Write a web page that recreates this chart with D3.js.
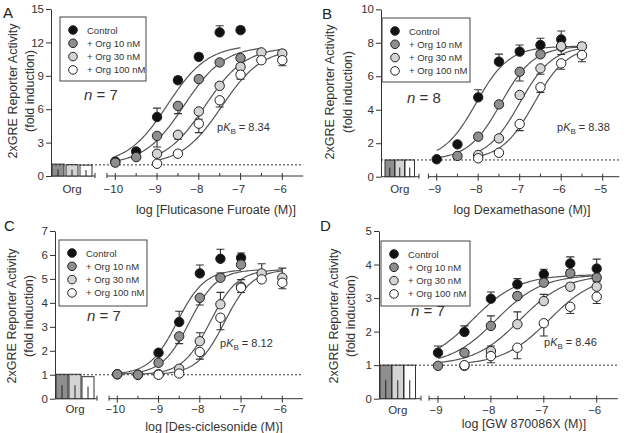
<!DOCTYPE html>
<html>
<head>
<meta charset="utf-8">
<script src="https://cdn.jsdelivr.net/npm/d3@7"></script>
<style>
  body { margin: 0; background: #fff; }
  svg { display: block; font-family: "Liberation Sans", Arial, sans-serif; }
</style>
</head>
<body>
<svg id="chart" width="629" height="433"></svg>
<script>
// legend / series labels
var seriesNames = ["Control", "+ Org 10 nM", "+ Org 30 nM", "+ Org 100 nM"];

// points are [log dose, mean, error] ; negative error = bar drawn below
// A - fluticasone furoate
var ffControl = [[-10,1.3,0],[-9.5,2.2,0.2],[-9,5.3,0.8],[-8.5,8.6,0.3],[-8,10.7,0.3],[-7.5,12.9,0.6],[-7,13.1,0.3]];
var ffOrg10 = [[-10,1.2,0],[-9.5,1.7,0],[-9,3.6,-1.0],[-8.5,6.3,-0.7],[-8,8.7,0.2],[-7.5,10.2,0.2],[-7,10.6,0.2]];
var ffOrg30 = [[-9,2.0,0],[-8.5,3.7,-0.4],[-8,5.8,-0.7],[-7.5,8.1,0.3],[-7,9.8,0.3],[-6.5,11.1,0.2],[-6,11.0,0.3]];
var ffOrg100 = [[-9,1.1,0],[-8.5,2.0,0.2],[-8,4.7,-0.8],[-7.5,6.8,-0.6],[-7,9.1,-0.4],[-6.5,10.4,0.2],[-6,10.4,-0.5]];
var ffOrg = [1.07, 1.02, 0.98];
// fits: [bottom, top, logEC50, hill, from, to]
var ffFits = [[1,11.8,-8.75,0.9,-10,-7],[1,11.7,-8.35,0.9,-10,-6.5],[1,11.6,-7.85,0.9,-9,-6],[1,11.5,-7.45,0.9,-9,-6]];
var ffXTicks = [-10,-9,-8,-7,-6];
var ffYTicks = [0,3,6,9,12,15];

// B - dexamethasone
var dxControl = [[-9,1.04,0],[-8.5,1.93,0.1],[-8,4.74,0.45],[-7.5,6.87,0.45],[-7,7.47,0.4],[-6.5,7.87,0.4],[-6,8.2,0.5]];
var dxOrg10 = [[-8.5,1.24,0],[-8,2.39,0.15],[-7.5,4.32,0.1],[-7,6.27,-0.55],[-6.5,7.31,0.2],[-6,7.77,0.3]];
var dxOrg30 = [[-8,1.3,-0.2],[-7.5,2.29,0.15],[-7,4.88,0.15],[-6.5,6.47,-0.35],[-6,7.8,-0.5],[-5.5,7.78,0.2]];
var dxOrg100 = [[-8,1.1,-0.1],[-7.5,1.43,0.1],[-7,3.15,-0.4],[-6.5,5.34,-0.3],[-6,6.77,-0.35],[-5.5,7.27,-0.4]];
var dxOrg = [1.0, 1.0, 1.0];
var dxFits = [[1,7.8,-8.05,1.1,-9,-5.5],[1,7.8,-7.45,1.1,-9,-5.5],[1,7.8,-7.0,1.1,-8,-5.5],[1,7.8,-6.65,1.1,-8,-5.5]];
var dxXTicks = [-9,-8,-7,-6,-5];
var dxYTicks = [0,2,4,6,8,10];

// C - des-ciclesonide
var dcControl = [[-10,1.02,0],[-9.5,1.0,0],[-9,1.92,0.1],[-8.5,3.2,0.45],[-8,5.23,0.35],[-7.5,5.84,0.4],[-7,5.88,0.2]];
var dcOrg10 = [[-10,1.02,0],[-9.5,1.0,0],[-9,1.5,0.1],[-8.5,2.6,-0.3],[-8,4.21,-0.3],[-7.5,5.05,0.2],[-7,5.6,0.2]];
var dcOrg30 = [[-9,1.02,0],[-8.5,1.25,0.1],[-8,2.4,0.35],[-7.5,3.94,0.5],[-7,4.67,0.3],[-6.5,5.23,0.4],[-6,5.05,0.4]];
var dcOrg100 = [[-9,1.0,0],[-8.5,1.05,0],[-8,1.95,-0.3],[-7.5,3.38,-0.5],[-7,4.63,-0.2],[-6.5,4.98,0.1],[-6,4.84,-0.25]];
var dcOrg = [1.02, 1.02, 0.92];
var dcFits = [[1,5.4,-8.55,1.3,-10,-7],[1,5.4,-8.25,1.3,-10,-6.5],[1,5.4,-7.75,1.3,-9.5,-6],[1,5.4,-7.4,1.3,-9,-6]];
var dcXTicks = [-10,-9,-8,-7,-6];
var dcYTicks = [0,1,2,3,4,5,6,7];

// D - GW 870086X
var gwControl = [[-9,1.37,0.2],[-8.5,1.99,0.18],[-8,2.98,0.2],[-7.5,3.41,0.17],[-7,3.71,0.15],[-6.5,4.03,0.2],[-6,3.88,0.28]];
var gwOrg10 = [[-9,0.98,0],[-8.5,1.37,0.05],[-8,2.17,0.3],[-7.5,3.06,0.1],[-7,3.46,0.1],[-6.5,3.74,0.1],[-6,3.61,0.1]];
var gwOrg30 = [[-8.5,0.98,0],[-8,1.42,0.15],[-7.5,2.22,0.37],[-7,2.91,0.2],[-6.5,3.34,0.1],[-6,3.34,0.15]];
var gwOrg100 = [[-8.5,1.0,0],[-8,1.27,-0.2],[-7.5,1.52,-0.33],[-7,2.25,-0.38],[-6.5,2.74,-0.2],[-6,3.04,-0.2]];
var gwOrg = [1.0, 1.0, 1.0];
var gwFits = [[1,3.7,-8.35,1,-9,-6],[1,3.7,-7.9,1,-9,-6],[1,3.7,-7.45,1,-9,-6],[1,3.7,-6.9,1,-8.5,-6]];
var gwXTicks = [-9,-8,-7,-6];
var gwYTicks = [0,1,2,3,4,5];

var fills = ["#111", "#8e8e8e", "#d4d4d4", "#fff"];
var ink = "#333";

var panels = [
    { letter: "A", series: [ffControl, ffOrg10, ffOrg30, ffOrg100], fits: ffFits, org: ffOrg,
      xTicks: ffXTicks, yTicks: ffYTicks, n: "7", pkb: "8.34", title: "log [Fluticasone Furoate (M)]",
      ax: 51, y0: 176, y1: 9, orgEnd: 95, barX: [52, 66, 80], barW: 12,
      px0: 115.3, px1: 282.3, xStart: -10.2, xEnd: -5.5,
      legend: [60, 17, 86, 64], nPos: [84, 100], pkbPos: [217, 131], letterPos: [3, 18],
      yTitle: [13, 30, 91], tickY: 193, titleY: 214, titleX: 216 },
    { letter: "B", series: [dxControl, dxOrg10, dxOrg30, dxOrg100], fits: dxFits, org: dxOrg,
      xTicks: dxXTicks, yTicks: dxYTicks, n: "8", pkb: "8.38", title: "log Dexamethasone (M)]",
      ax: 381, y0: 176.7, y1: 9.3, orgEnd: 419, barX: [385, 395, 405], barW: 9.5,
      px0: 436.7, px1: 602.7, xStart: -9.2, xEnd: -4.6,
      legend: [382, 18, 88, 64], nPos: [407, 103], pkbPos: [557, 131], letterPos: [322, 19],
      yTitle: [330, 348, 92], tickY: 193, titleY: 214, titleX: 522 },
    { letter: "C", series: [dcControl, dcOrg10, dcOrg30, dcOrg100], fits: dcFits, org: dcOrg,
      xTicks: dcXTicks, yTicks: dcYTicks, n: "7", pkb: "8.12", title: "log [Des-ciclesonide (M)]",
      ax: 55, y0: 398.7, y1: 231, orgEnd: 97, barX: [56, 69, 82], barW: 12,
      px0: 117.3, px1: 282.3, xStart: -10.2, xEnd: -5.5,
      legend: [59, 240, 88, 66], nPos: [87, 321], pkbPos: [220, 347], letterPos: [4, 231],
      yTitle: [12, 29, 316], tickY: 413, titleY: 431, titleX: 214 },
    { letter: "D", series: [gwControl, gwOrg10, gwOrg30, gwOrg100], fits: gwFits, org: gwOrg,
      xTicks: gwXTicks, yTicks: gwYTicks, n: "7", pkb: "8.46", title: "log [GW 870086X (M)]",
      ax: 379, y0: 398.7, y1: 231, orgEnd: 421, barX: [380, 392, 404], barW: 11.5,
      px0: 438, px1: 596.7, xStart: -9.17, xEnd: -5.6,
      legend: [381, 241, 89, 65], nPos: [411, 316], pkbPos: [544, 346], letterPos: [320, 231],
      yTitle: [334, 351, 316], tickY: 414, titleY: 428, titleX: 524 }
];

var svg = d3.select("#chart");

function hill(f, v) {
    return f[0] + (f[1] - f[0]) / (1 + Math.pow(10, f[3] * (f[2] - v)));
}

panels.forEach(function(p) {
    var g = svg.append("g");
    var yMax = p.yTicks[p.yTicks.length - 1];
    var y = d3.scaleLinear().domain([0, yMax]).range([p.y0, p.y1]);
    var x = d3.scaleLinear().domain([p.xTicks[0], p.xTicks[p.xTicks.length - 1]]).range([p.px0, p.px1]);

    // y axis
    var yAxis = g.append("g")
        .attr("transform", "translate(" + p.ax + ",0)")
        .call(d3.axisLeft(y).tickValues(p.yTicks).tickFormat(d3.format("d"))
            .tickSize(5).tickSizeOuter(0).tickPadding(2));
    yAxis.selectAll("path, line").attr("stroke", ink);
    yAxis.selectAll("text").attr("font-size", 11.5).attr("fill", ink);

    // org bars + short axis
    g.append("line")
        .attr("x1", p.ax).attr("x2", p.orgEnd)
        .attr("y1", p.y0).attr("y2", p.y0)
        .attr("stroke", ink);
    g.append("line")
        .attr("x1", p.orgEnd).attr("x2", p.orgEnd)
        .attr("y1", p.y0 - 3).attr("y2", p.y0 + 2)
        .attr("stroke", ink);
    g.selectAll(".bar").data(p.org).join("rect")
        .attr("x", (d, i) => p.barX[i])
        .attr("width", p.barW)
        .attr("y", d => y(d))
        .attr("height", d => p.y0 - y(d))
        .attr("fill", (d, i) => fills[i + 1])
        .attr("stroke", ink);
    g.selectAll(".barerr").data(p.org).join("line")
        .attr("x1", (d, i) => p.barX[i] + p.barW / 2)
        .attr("x2", (d, i) => p.barX[i] + p.barW / 2)
        .attr("y1", p.y0)
        .attr("y2", d => y(d * 0.55))
        .attr("stroke", "#222");
    g.append("text")
        .attr("x", (p.barX[0] + p.barX[2] + p.barW) / 2)
        .attr("y", p.tickY)
        .attr("text-anchor", "middle")
        .attr("font-size", 11.5).attr("fill", ink)
        .text("Org");

    // log dose axis
    var x0 = x(p.xStart), x1 = x(p.xEnd);
    g.append("line")
        .attr("x1", x0).attr("x2", x1)
        .attr("y1", p.y0).attr("y2", p.y0)
        .attr("stroke", ink);
    g.append("line")
        .attr("x1", x0).attr("x2", x0)
        .attr("y1", p.y0 - 3).attr("y2", p.y0 + 2)
        .attr("stroke", ink);
    var minors = d3.range(p.xTicks[0] + 0.5, p.xEnd, 1);
    g.selectAll(".minor").data(minors).join("line")
        .attr("x1", d => x(d)).attr("x2", d => x(d))
        .attr("y1", p.y0 - 3).attr("y2", p.y0)
        .attr("stroke", ink);
    g.selectAll(".major").data(p.xTicks).join("line")
        .attr("x1", d => x(d)).attr("x2", d => x(d))
        .attr("y1", p.y0 - 3).attr("y2", p.y0 + 4)
        .attr("stroke", ink);
    g.selectAll(".xlab").data(p.xTicks).join("text")
        .attr("x", d => x(d) - 2)
        .attr("y", p.tickY)
        .attr("text-anchor", "middle")
        .attr("font-size", 11.5).attr("fill", ink)
        .text(d => "\u2212" + Math.abs(d));

    // dotted baseline at 1
    g.append("line")
        .attr("x1", p.ax).attr("x2", x1)
        .attr("y1", y(1)).attr("y2", y(1))
        .attr("stroke", ink)
        .attr("stroke-dasharray", "2,2");

    // fitted curves
    var line = d3.line().x(d => x(d[0])).y(d => y(d[1]));
    p.fits.forEach(function(f) {
        var pts = d3.range(0, 101).map(k => {
            var v = f[4] + (f[5] - f[4]) * k / 100;
            return [v, hill(f, v)];
        });
        g.append("path")
            .attr("d", line(pts))
            .attr("fill", "none")
            .attr("stroke", "#555")
            .attr("stroke-width", 1.2);
    });

    // error bars and points
    p.series.forEach(function(s, i) {
        var eb = s.filter(d => d[2] !== 0);
        g.selectAll(".eb" + i).data(eb).join("path")
            .attr("d", d => {
                var cx = x(d[0]), ye = y(d[1] + d[2]);
                return "M" + cx + "," + y(d[1]) + "V" + ye + "M" + (cx - 4) + "," + ye + "H" + (cx + 4);
            })
            .attr("fill", "none")
            .attr("stroke", ink)
            .attr("stroke-width", 1.1);
    });
    p.series.forEach(function(s, i) {
        g.selectAll(".pt" + i).data(s).join("circle")
            .attr("cx", d => x(d[0]))
            .attr("cy", d => y(d[1]))
            .attr("r", 4.7)
            .attr("fill", fills[i])
            .attr("stroke", "#222");
    });

    // legend
    var L = p.legend;
    g.append("rect")
        .attr("x", L[0]).attr("y", L[1])
        .attr("width", L[2]).attr("height", L[3])
        .attr("fill", "#fff")
        .attr("stroke", "#444");
    seriesNames.forEach(function(name, i) {
        var ry = L[1] + 13 + i * 13.3;
        g.append("circle")
            .attr("cx", L[0] + 13).attr("cy", ry)
            .attr("r", 4.3)
            .attr("fill", fills[i])
            .attr("stroke", "#222");
        g.append("text")
            .attr("x", L[0] + 27).attr("y", ry + 3.5)
            .attr("font-size", 9.5)
            .attr("fill", ink)
            .text(name);
    });

    // n and pKB
    var nt = g.append("text")
        .attr("x", p.nPos[0]).attr("y", p.nPos[1])
        .attr("font-size", 15).attr("fill", ink);
    nt.append("tspan").attr("font-style", "italic").text("n");
    nt.append("tspan").text(" = " + p.n);

    var pk = g.append("text")
        .attr("x", p.pkbPos[0]).attr("y", p.pkbPos[1])
        .attr("font-size", 11).attr("fill", ink);
    pk.append("tspan").text("p");
    pk.append("tspan").attr("font-style", "italic").text("K");
    pk.append("tspan").attr("font-size", 8).attr("dy", 3).text("B");
    pk.append("tspan").attr("dy", -3).text(" = " + p.pkb);

    // titles
    g.append("text")
        .attr("x", p.letterPos[0]).attr("y", p.letterPos[1])
        .attr("font-size", 15).attr("fill", "#222")
        .text(p.letter);
    g.append("text")
        .attr("transform", "translate(" + p.yTitle[0] + "," + p.yTitle[2] + ") rotate(-90)")
        .attr("dy", "0.35em")
        .attr("text-anchor", "middle")
        .attr("font-size", 12.5).attr("fill", ink)
        .text("2xGRE Reporter Activity");
    g.append("text")
        .attr("transform", "translate(" + p.yTitle[1] + "," + p.yTitle[2] + ") rotate(-90)")
        .attr("dy", "0.35em")
        .attr("text-anchor", "middle")
        .attr("font-size", 12.5).attr("fill", ink)
        .text("(fold induction)");
    g.append("text")
        .attr("x", p.titleX).attr("y", p.titleY)
        .attr("text-anchor", "middle")
        .attr("font-size", 12.5).attr("fill", ink)
        .text(p.title);
});
</script>
</body>
</html>
